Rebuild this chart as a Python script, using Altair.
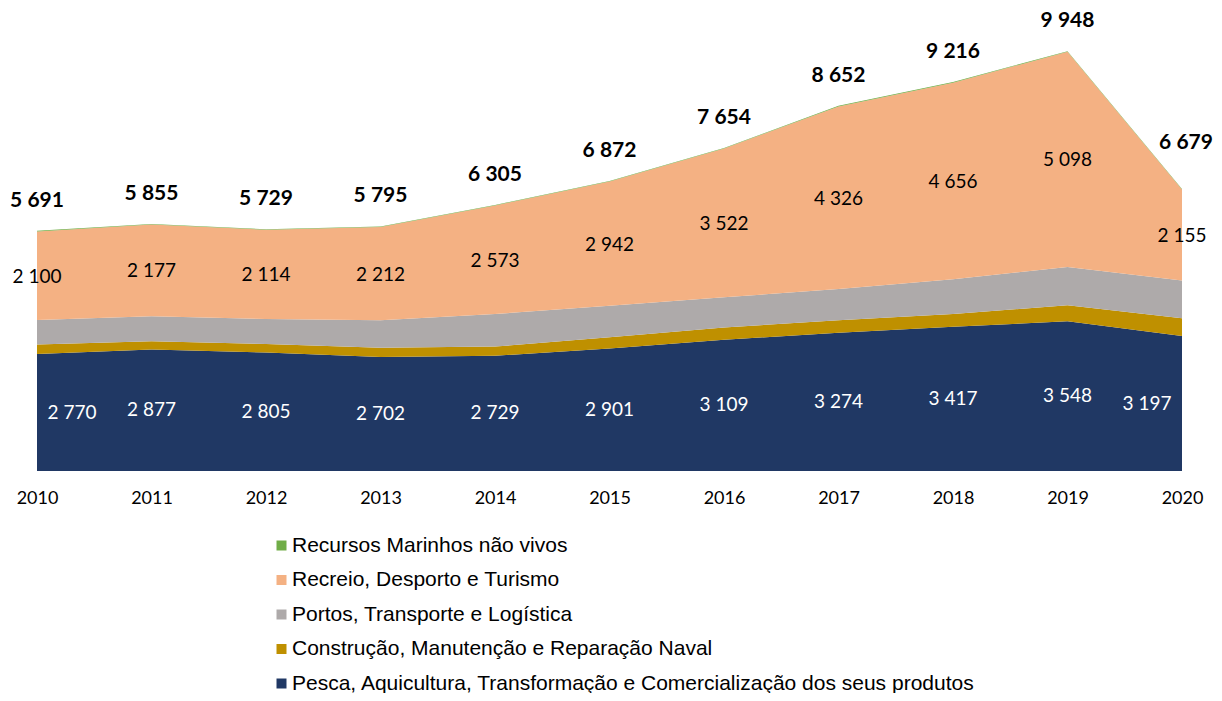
import altair as alt
import pandas as pd

years = [2010, 2011, 2012, 2013, 2014, 2015, 2016, 2017, 2018, 2019, 2020]
pesca = [2770, 2877, 2805, 2702, 2729, 2901, 3109, 3274, 3417, 3548, 3197]
construcao = [230, 195, 205, 218, 218, 268, 292, 300, 300, 380, 425]
portos = [576, 594, 593, 651, 772, 747, 716, 737, 828, 908, 890]
recreio = [2100, 2177, 2114, 2212, 2573, 2942, 3522, 4326, 4656, 5098, 2155]
recursos = [15, 12, 12, 12, 13, 14, 15, 15, 15, 14, 12]
totais = [5691, 5855, 5729, 5795, 6305, 6872, 7654, 8652, 9216, 9948, 6679]

names = [
    "Pesca, Aquicultura, Transformação e Comercialização dos seus produtos",
    "Construção, Manutenção e Reparação Naval",
    "Portos, Transporte e Logística",
    "Recreio, Desporto e Turismo",
    "Recursos Marinhos não vivos",
]
colors = ["#203864", "#BF9000", "#AEAAAA", "#F4B183", "#70AD47"]
series = [pesca, construcao, portos, recreio, recursos]


def fmt(v):
    return f"{v:,}".replace(",", " ")


rows = []
for k, (nm, vals) in enumerate(zip(names, series)):
    for y, v in zip(years, vals):
        rows.append({"ano": y, "serie": nm, "valor": v, "ord": k})
df = pd.DataFrame(rows)

lab = pd.DataFrame({
    "ano": years,
    "pesca_mid": [p / 2 for p in pesca],
    "pesca_lbl": [fmt(p) for p in pesca],
    "rec_mid": [p + c + t + r / 2 for p, c, t, r in zip(pesca, construcao, portos, recreio)],
    "rec_lbl": [fmt(r) for r in recreio],
    "total": totais,
    "total_lbl": [fmt(t) for t in totais],
})

xs = alt.Scale(domain=[2010, 2020], nice=False, zero=False)
ys = alt.Scale(domain=[0, 10970], nice=False)

legend_order = names[::-1]
legend_colors = colors[::-1]

area = alt.Chart(df).mark_area(opacity=1, interpolate="linear").encode(
    x=alt.X("ano:Q", scale=xs, title=None,
            axis=alt.Axis(values=years, format="d", domain=False, ticks=False, grid=False,
                          labelFont="Lato", labelFontSize=18, labelColor="#000000",
                          labelPadding=18, labelFlush=False)),
    y=alt.Y("valor:Q", stack="zero", scale=ys, axis=None),
    color=alt.Color("serie:N", scale=alt.Scale(domain=legend_order, range=legend_colors),
                    legend=alt.Legend(title=None, orient="none", legendX=234, legendY=527,
                                      direction="vertical", labelFont="Liberation Sans",
                                      labelFontSize=21, labelColor="#000000",
                                      symbolType="square", symbolSize=100,
                                      symbolStrokeWidth=0, rowPadding=12.5, labelOffset=0,
                                      labelLimit=1000)),
    order=alt.Order("ord:Q", sort="ascending"),
)

base = alt.Chart(lab)


def txt(field, yfield, color, size, weight, dx=0, dy=0, flt=None):
    c = base
    if flt is not None:
        c = c.transform_filter(flt)
    return c.mark_text(color=color, font="Lato", fontSize=size, fontWeight=weight,
                       dx=dx, dy=dy, baseline="middle").encode(
        x=alt.X("ano:Q", scale=xs),
        y=alt.Y(f"{yfield}:Q", scale=ys),
        text=alt.Text(f"{field}:N"),
    )


pesca_mid = txt("pesca_lbl", "pesca_mid", "#FFFFFF", 19, "normal",
                flt="datum.ano > 2010 && datum.ano < 2020")
pesca_first = txt("pesca_lbl", "pesca_mid", "#FFFFFF", 19, "normal", dx=35,
                  flt="datum.ano == 2010")
pesca_last = txt("pesca_lbl", "pesca_mid", "#FFFFFF", 19, "normal", dx=-35,
                 flt="datum.ano == 2020")
rec = txt("rec_lbl", "rec_mid", "#000000", 19, "normal", dy=1)
tot = txt("total_lbl", "total", "#000000", 21, "bold", dy=-30,
          flt="datum.ano < 2020")
tot_last = txt("total_lbl", "total", "#000000", 21, "bold", dx=4, dy=-46,
               flt="datum.ano == 2020")

chart = alt.layer(area, pesca_mid, pesca_first, pesca_last, rec, tot, tot_last).properties(
    width=1145, height=463,
    autosize=alt.AutoSizeParams(type="none"),
    padding={"left": 29, "top": 0, "right": 32, "bottom": 222},
).configure_view(stroke=None)

chart.save("out.html", embed_options={"renderer": "svg", "actions": False})
